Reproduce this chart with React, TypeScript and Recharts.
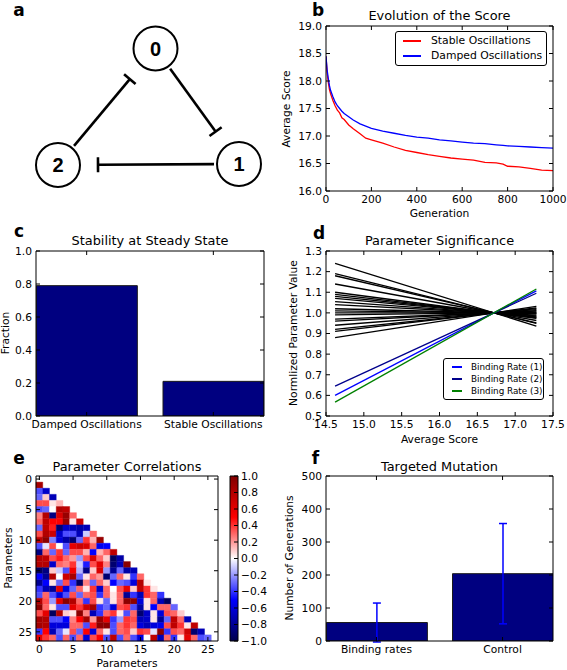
import React from 'react';
import {
  ComposedChart, LineChart, Line, XAxis, YAxis, Bar, ErrorBar, ScatterChart, Scatter,
  ReferenceLine, ReferenceArea, Legend,
} from 'recharts';

const FONT = "'DejaVu Sans', 'Liberation Sans', sans-serif";
const TICK_SIZE = 10.7;
const TITLE_SIZE = 12.9;
const LETTER_SIZE = 17;

/* ---------- panel a : network ---------- */
const nodeLabels = ['0', '1', '2'];
const nodeX = [155.5, 239, 58];
const nodeY = [48.5, 164, 165];
const edgeFrom = [0, 1, 2];
const edgeTo = [1, 2, 0];

/* ---------- panel b : evolution of the score ---------- */
const generations = [0, 5, 10, 15, 20, 30, 40, 50, 60, 70, 80, 100, 120, 150, 175, 200, 250, 300, 350, 400, 450, 500, 550, 600, 650, 700, 750, 780, 800, 850, 900, 950, 1000];
const stableScore = [18.45, 18.15, 17.98, 17.85, 17.77, 17.65, 17.55, 17.47, 17.42, 17.33, 17.3, 17.2, 17.13, 17.04, 16.96, 16.93, 16.87, 16.8, 16.74, 16.7, 16.66, 16.63, 16.6, 16.58, 16.56, 16.52, 16.51, 16.49, 16.45, 16.44, 16.41, 16.38, 16.37];
const dampedScore = [18.45, 18.2, 18.05, 17.92, 17.83, 17.72, 17.62, 17.55, 17.5, 17.45, 17.41, 17.35, 17.29, 17.22, 17.18, 17.14, 17.09, 17.05, 17.01, 16.98, 16.96, 16.93, 16.91, 16.89, 16.87, 16.86, 16.84, 16.83, 16.82, 16.81, 16.8, 16.79, 16.78];
const scoreSeriesNames = ['Stable Oscillations', 'Damped Oscillations'];
const scoreSeriesColors = ['#ff0000', '#0000ff'];
const genTicks = [0, 200, 400, 600, 800, 1000];
const scoreTicks = [16, 16.5, 17, 17.5, 18, 18.5, 19];

/* ---------- panel c : stability ---------- */
const stabilityCategories = ['Damped Oscillations', 'Stable Oscillations'];
const stabilityFractions = [0.79, 0.21];
const fractionTicks = [0, 0.2, 0.4, 0.6, 0.8, 1.0];

/* ---------- panel d : parameter significance ---------- */
const paramScoreRange = [14.62, 17.28];
const paramStart = [1.24, 1.19, 1.18, 1.14, 1.10, 1.09, 1.08, 1.07, 1.055, 1.04, 1.02, 1.01, 1.0, 0.99, 0.97, 0.96, 0.94, 0.92, 0.91, 0.88];
const paramEnd = [0.936, 0.949, 0.952, 0.963, 0.973, 0.976, 0.979, 0.981, 0.985, 0.989, 0.995, 0.997, 1.0, 1.003, 1.008, 1.011, 1.016, 1.021, 1.024, 1.032];
const bindingNames = ['Binding Rate (1)', 'Binding Rate (2)', 'Binding Rate (3)'];
const bindingColors = ['#0000ff', '#00008b', '#008000'];
const bindingStart = [0.60, 0.645, 0.567];
const bindingEnd = [1.107, 1.095, 1.116];
const avgScoreTicks = [14.5, 15, 15.5, 16, 16.5, 17, 17.5];
const normTicks = [0.5, 0.6, 0.7, 0.8, 0.9, 1.0, 1.1, 1.2, 1.3];

/* ---------- panel e : correlations (lower triangle) ---------- */
const correlationRows: number[][] = [
  [],
  [0.85],
  [-0.35, -0.65],
  [-0.3, 0.1, -0.7],
  [0.35, 0.35, 0.05, 0.15],
  [-0.35, -0.3, 0.0, 0.8, 0.75],
  [0.25, 0.8, -0.85, 0.65, 0.9, 0.3],
  [0.3, 0.75, 0.5, 0.5, 0.9, 0.05, 0.7],
  [-0.3, 0.75, 0.45, -0.9, -0.65, -0.7, -0.75, -0.7],
  [0.35, 0.8, 0.7, -0.65, -0.35, -0.35, -0.7, -0.1, 0.3],
  [0.75, 0.95, -0.25, -0.6, -0.75, -0.9, -0.3, 0.4, 0.15, 0.9],
  [-0.35, -0.05, 0.35, 0.0, -0.35, 0.6, 0.7, 0.65, 0.3, -0.55, -0.5],
  [-0.85, 0.3, -0.3, 0.4, -0.3, 0.35, 0.35, 0.15, -0.5, 0.15, 0.3, 0.75],
  [0.8, 0.75, 0.35, 0.45, 0.3, 0.2, -0.2, 0.35, 0.65, 0.3, 0.1, -0.95, -0.75],
  [0.8, 0.8, -0.65, 0.3, 0.25, 0.4, -0.1, -0.45, 0.35, 0.6, 0.25, -0.9, -0.7, 0.95],
  [-0.95, -0.85, 0.1, -0.1, -0.35, 0.55, -0.15, -0.85, 0.1, 0.65, -0.2, -0.8, -0.3, -0.75, -0.7],
  [-0.5, -0.8, 0.8, 0.0, 0.7, 0.85, -0.3, 0.05, 0.3, 0.2, -0.9, -0.3, 0.3, 0.05, -0.4, 0.3],
  [-0.8, -0.5, 0.05, -0.3, 0.35, -0.4, -0.95, 0.25, -0.3, 0.3, 0.1, -0.5, -0.3, -0.35, -0.6, 0.8, 0.05],
  [-0.4, -0.7, -0.8, 0.6, -0.6, -0.3, 0.3, 0.05, 0.4, -0.65, 0.3, 0.0, 0.35, 0.6, 0.1, 0.75, 0.4, 0.05],
  [-0.35, 0.3, -0.35, -0.6, -0.35, 0.35, -0.3, 0.3, 0.35, -0.4, 0.3, 0.05, 0.3, -0.8, -0.4, -0.7, 0.4, 0.3, -0.4],
  [0.8, 0.35, -0.2, 0.6, 0.95, 0.8, 0.3, -0.4, 0.35, 0.05, -0.3, 0.05, 0.3, 0.95, 0.95, -0.6, 0.05, 0.3, -0.7, -0.95],
  [0.95, 0.3, 0.05, -0.35, -0.35, 0.6, 0.4, 0.7, 0.85, -0.4, -0.3, -0.6, 0.35, 0.4, -0.35, -0.75, 0.05, -0.5, 0.3, 0.3, -0.3],
  [0.35, 0.6, -0.95, 0.8, 0.1, 0.05, 0.95, 0.25, -0.7, -0.4, 0.3, 0.4, 0.05, -0.35, 0.3, -0.9, -0.65, 0.05, -0.6, 0.35, 0.3, 0.1],
  [0.85, 0.8, -0.35, -0.35, -0.5, 0.25, 0.5, 0.85, 0.2, 0.9, 0.6, -0.4, -0.2, 0.4, 0.35, -0.7, -0.65, 0.05, -0.8, -0.3, 0.75, 0.3, -0.7],
  [0.85, 0.8, -0.6, -0.6, -0.6, 0.3, 0.3, -0.35, 0.45, 0.95, 0.95, -0.35, 0.3, 0.4, 0.3, -0.6, -0.7, -0.6, -0.55, 0.35, 0.75, 0.4, 0.05, 0.75],
  [-0.4, 0.5, -0.7, -0.3, -0.05, 0.35, -0.3, 0.5, -0.6, 0.3, 0.05, -0.35, 0.3, 0.35, 0.1, 0.4, 0.35, -0.05, 0.95, -0.4, 0.35, 0.3, 0.7, -0.9, -0.7],
  [0.6, 0.4, 0.3, -0.35, 0.3, -0.35, 0.3, -0.6, 0.35, 0.5, -0.35, 0.75, -0.35, 0.3, -0.35, -0.6, 0.0, 0.75, -0.7, 0.3, -0.4, 0.05, 0.6, 0.3, -0.35, -0.3],
];
const paramTicks = [0, 5, 10, 15, 20, 25];
const colorbarTicks = [-1, -0.8, -0.6, -0.4, -0.2, 0, 0.2, 0.4, 0.6, 0.8, 1.0];

/* ---------- panel f : targeted mutation ---------- */
const mutationCategories = ['Binding rates', 'Control'];
const mutationMeans = [56, 204];
const mutationErrors = [59, 152];
const generationTicks = [0, 100, 200, 300, 400, 500];

/* ---------- helpers ---------- */
const seismicStops: number[][] = [
  [0, 0, 0, 76.5], [0.25, 0, 0, 255], [0.5, 255, 255, 255], [0.75, 255, 0, 0], [1, 127.5, 0, 0],
];
function seismic(v: number) {
  const t = Math.max(0, Math.min(1, (v + 1) / 2));
  for (let k = 0; k < seismicStops.length - 1; k++) {
    const a = seismicStops[k];
    const b = seismicStops[k + 1];
    if (t <= b[0]) {
      const f = (t - a[0]) / (b[0] - a[0]);
      const c = [1, 2, 3].map((n) => Math.round(a[n] + (b[n] - a[n]) * f));
      return `rgb(${c.join(',')})`;
    }
  }
  return 'rgb(128,0,0)';
}

const ZERO = { top: 0, right: 0, bottom: 0, left: 0 };
const TICK = { fontSize: TICK_SIZE, fill: '#000', fontFamily: FONT };
const NoTick = () => null;
const HiddenPoint = () => <g />;
const one = (v: number) => v.toFixed(1);
const int = (v: number) => String(Math.round(v));
const minusFmt = (v: number) => (v < -1e-9 ? '\u2212' + Math.abs(v).toFixed(1) : Math.abs(v).toFixed(1));

type FrameOpts = {
  xKey?: string;
  yKey?: string;
  xDomain: [number, number];
  yDomain: [number, number];
  xTicks: number[];
  yTicks: number[];
  xFmt?: (v: number, i: number) => string;
  yFmt?: (v: number, i: number) => string;
  l: number; r: number; t: number; b: number;
  yRev?: boolean;
};

function frameAxes(o: FrameOpts) {
  const shared: any = {
    type: 'number',
    allowDataOverflow: true,
    stroke: '#000',
    interval: 0,
    tickSize: -4,
    tickLine: { stroke: '#000' },
    axisLine: { stroke: '#000', strokeWidth: 1 },
  };
  return [
    <XAxis key="xb" {...shared} xAxisId={0} orientation="bottom" dataKey={o.xKey} domain={o.xDomain}
      ticks={o.xTicks} tickFormatter={o.xFmt} height={o.b} tickMargin={8} tick={TICK} />,
    <XAxis key="xt" {...shared} xAxisId="top" orientation="top" dataKey={o.xKey} domain={o.xDomain}
      ticks={o.xTicks} height={o.t} tick={NoTick} />,
    <YAxis key="yl" {...shared} yAxisId={0} orientation="left" dataKey={o.yKey} domain={o.yDomain} ticks={o.yTicks}
      tickFormatter={o.yFmt} width={o.l} tickMargin={8} tick={TICK} reversed={o.yRev} />,
    <YAxis key="yr" {...shared} yAxisId="right" orientation="right" domain={o.yDomain} ticks={o.yTicks}
      width={o.r} tick={NoTick} reversed={o.yRev} />,
  ];
}

function LegendBox(p: { names: string[]; colors: string[]; fontSize: number; lineLen: number; rowH: number; padL: number; padT: number; gap: number; width: number }) {
  return (
    <div style={{
      boxSizing: 'border-box', width: p.width, border: '1px solid #000', borderRadius: 3, background: '#fff',
      padding: `${p.padT}px 0 ${p.padT}px ${p.padL}px`, fontFamily: FONT, fontSize: p.fontSize, color: '#000', lineHeight: 1,
    }}>
      {p.names.map((n, i) => (
        <div key={n} style={{ display: 'flex', alignItems: 'center', height: p.rowH, whiteSpace: 'nowrap' }}>
          <div style={{ flex: 'none', width: p.lineLen, height: 1.5, background: p.colors[i], marginRight: p.gap }} />
          <span>{n}</span>
        </div>
      ))}
    </div>
  );
}

function Txt(p: { x: number; y: number; size: number; bold?: boolean; rotate?: boolean; children: React.ReactNode }) {
  return (
    <div style={{
      position: 'absolute', left: p.x, top: p.y,
      transform: `translate(-50%, -50%)${p.rotate ? ' rotate(-90deg)' : ''}`,
      fontSize: p.size, fontWeight: p.bold ? 'bold' : 'normal', fontFamily: FONT,
      lineHeight: 1, whiteSpace: 'nowrap', color: '#000',
    }}>{p.children}</div>
  );
}

/* ---------- panels ---------- */
const NodeShape = (props: any) => (
  <g>
    <circle cx={props.cx} cy={props.cy} r={22} fill="#fff" stroke="#000" strokeWidth={2} />
    <text x={props.cx} y={props.cy} dy="0.36em" textAnchor="middle" fontSize={20} fontWeight="bold"
      fontFamily="'Liberation Sans', Arial, sans-serif" fill="#000">{props.payload.label}</text>
  </g>
);

function PanelA() {
  const nodes = nodeLabels.map((label, i) => ({ x: nodeX[i], y: nodeY[i], label }));
  const START = 25;
  const END = 40;
  const BAR = 7.5;
  const edges = edgeFrom.map((f, k) => {
    const t = edgeTo[k];
    const dx = nodeX[t] - nodeX[f];
    const dy = nodeY[t] - nodeY[f];
    const len = Math.hypot(dx, dy);
    const ux = dx / len;
    const uy = dy / len;
    const sx = nodeX[f] + ux * START;
    const sy = nodeY[f] + uy * START;
    const ex = nodeX[t] - ux * END;
    const ey = nodeY[t] - uy * END;
    return {
      line: [{ x: sx, y: sy }, { x: ex, y: ey }],
      bar: [{ x: ex - uy * BAR, y: ey + ux * BAR }, { x: ex + uy * BAR, y: ey - ux * BAR }],
    };
  });
  return (
    <div style={{ position: 'absolute', left: 0, top: 0 }}>
      <ScatterChart width={290} height={210} margin={ZERO}>
        <XAxis type="number" dataKey="x" domain={[0, 290]} hide allowDataOverflow />
        <YAxis type="number" dataKey="y" domain={[0, 210]} hide reversed allowDataOverflow />
        {edges.map((e, k) => (
          <ReferenceLine key={'l' + k} segment={e.line} stroke="#000" strokeWidth={2.6} ifOverflow="visible" />
        ))}
        {edges.map((e, k) => (
          <ReferenceLine key={'b' + k} segment={e.bar} stroke="#000" strokeWidth={2.6} ifOverflow="visible" />
        ))}
        <Scatter data={nodes} shape={NodeShape} isAnimationActive={false} />
      </ScatterChart>
    </div>
  );
}

function PanelB() {
  const data = generations.map((g, i) => ({ gen: g, stable: stableScore[i], damped: dampedScore[i] }));
  return (
    <div style={{ position: 'absolute', left: 270, top: 0 }}>
      <LineChart width={297} height={225} data={data} margin={ZERO}>
        {frameAxes({ xKey: 'gen', xDomain: [0, 1000], yDomain: [16, 19], xTicks: genTicks, yTicks: scoreTicks, xFmt: int, yFmt: one, l: 56, r: 14, t: 26, b: 34 })}
        <Line dataKey="stable" stroke={scoreSeriesColors[0]} strokeWidth={1.3} dot={false} isAnimationActive={false} />
        <Line dataKey="damped" stroke={scoreSeriesColors[1]} strokeWidth={1.3} dot={false} isAnimationActive={false} />
        <Legend layout="vertical" align="center" verticalAlign="middle"
          wrapperStyle={{ left: 125, top: 31, width: 152 }}
          content={() => <LegendBox names={scoreSeriesNames} colors={scoreSeriesColors} fontSize={10.8} lineLen={17.5} rowH={15} padL={7} padT={1.5} gap={10.5} width={152} />} />
      </LineChart>
    </div>
  );
}

function PanelC() {
  const data = stabilityCategories.map((c, i) => ({ pos: i + 0.4, frac: stabilityFractions[i] }));
  return (
    <div style={{ position: 'absolute', left: 0, top: 225 }}>
      <ComposedChart width={282} height={225} data={data} margin={ZERO}>
        {frameAxes({ xKey: 'pos', xDomain: [0, 1.8], yDomain: [0, 1], xTicks: data.map((d) => d.pos), yTicks: fractionTicks, xFmt: (_v, i) => stabilityCategories[i], yFmt: one, l: 36, r: 18, t: 26, b: 34 })}
        <Bar dataKey="frac" fill="#000080" stroke="#1a1a1a" strokeWidth={1} barSize={101} isAnimationActive={false} />
      </ComposedChart>
    </div>
  );
}

function PanelD() {
  const data = paramScoreRange.map((s, k) => {
    const row: any = { score: s };
    paramStart.forEach((v, i) => { row['p' + i] = k === 0 ? v : paramEnd[i]; });
    bindingStart.forEach((v, i) => { row['br' + i] = k === 0 ? v : bindingEnd[i]; });
    return row;
  });
  return (
    <div style={{ position: 'absolute', left: 282, top: 225 }}>
      <LineChart width={285} height={225} data={data} margin={ZERO}>
        {frameAxes({ xKey: 'score', xDomain: [14.5, 17.5], yDomain: [0.5, 1.3], xTicks: avgScoreTicks, yTicks: normTicks, xFmt: one, yFmt: one, l: 44, r: 14, t: 26, b: 34 })}
        {paramStart.map((_v, i) => (
          <Line key={'p' + i} dataKey={'p' + i} stroke="#000" strokeWidth={1.3} dot={false} isAnimationActive={false} />
        ))}
        {bindingStart.map((_v, i) => (
          <Line key={'br' + i} dataKey={'br' + i} stroke={bindingColors[i]} strokeWidth={1.3} dot={false} isAnimationActive={false} />
        ))}
        <Legend layout="vertical" align="center" verticalAlign="middle"
          wrapperStyle={{ left: 161, top: 133, width: 101 }}
          content={() => <LegendBox names={bindingNames} colors={bindingColors} fontSize={8.8} lineLen={10} rowH={12} padL={8} padT={2} gap={9} width={101} />} />
      </LineChart>
    </div>
  );
}

function PanelE() {
  const cells = correlationRows.flatMap((row, i) => row.map((v, j) => ({ i, j, v })));
  const points = cells.map((c) => ({ x: c.j, y: c.i }));
  return (
    <div style={{ position: 'absolute', left: 0, top: 450 }}>
      <ScatterChart width={226} height={220} margin={ZERO}>
        {frameAxes({ xKey: 'x', yKey: 'y', xDomain: [-0.5, 26.5], yDomain: [-0.5, 26.5], xTicks: paramTicks, yTicks: paramTicks, xFmt: int, yFmt: int, l: 36, r: 8, t: 26, b: 29, yRev: true })}
        {cells.map((c) => (
          <ReferenceArea key={`${c.i}-${c.j}`} x1={c.j - 0.5} x2={c.j + 0.5} y1={c.i - 0.5} y2={c.i + 0.5}
            fill={seismic(c.v)} fillOpacity={1} stroke={seismic(c.v)} strokeWidth={0.4} ifOverflow="visible" />
        ))}
        <Scatter data={points} shape={HiddenPoint} isAnimationActive={false} />
      </ScatterChart>
    </div>
  );
}

function Colorbar() {
  const shared: any = { type: 'number', allowDataOverflow: true, stroke: '#000', interval: 0, axisLine: { stroke: '#000' } };
  const gradStops = [...seismicStops].reverse();
  const anchor = [{ x: 0.5, y: 0 }];
  return (
    <div style={{ position: 'absolute', left: 222, top: 450 }}>
      <ScatterChart width={56} height={220} margin={ZERO}>
        <defs>
          <linearGradient id="seismicGrad" x1="0" y1="0" x2="0" y2="1">
            {gradStops.map((s, k) => (
              <stop key={k} offset={`${(1 - s[0]) * 100}%`} stopColor={`rgb(${Math.round(s[1])},${Math.round(s[2])},${Math.round(s[3])})`} />
            ))}
          </linearGradient>
        </defs>
        <XAxis {...shared} xAxisId={0} dataKey="x" orientation="bottom" domain={[0, 1]} ticks={[0.5]} height={29} tick={NoTick} tickLine={false} />
        <XAxis {...shared} xAxisId="top" dataKey="x" orientation="top" domain={[0, 1]} ticks={[0.5]} height={26} tick={NoTick} tickLine={false} />
        <YAxis {...shared} yAxisId={0} dataKey="y" orientation="left" domain={[-1, 1]} ticks={colorbarTicks} width={8} tick={NoTick} tickLine={false} />
        <YAxis {...shared} yAxisId="right" orientation="right" domain={[-1, 1]} ticks={colorbarTicks} width={40}
          tickSize={-4} tickMargin={7} tickLine={{ stroke: '#000' }} tick={TICK} tickFormatter={minusFmt} />
        <ReferenceArea x1={0} x2={1} y1={-1} y2={1} fill="url(#seismicGrad)" fillOpacity={1} stroke="none" ifOverflow="visible" />
        <Scatter data={anchor} shape={HiddenPoint} isAnimationActive={false} />
      </ScatterChart>
    </div>
  );
}

function PanelF() {
  const data = mutationCategories.map((c, i) => ({ pos: i + 0.4, mean: mutationMeans[i], err: mutationErrors[i] }));
  return (
    <div style={{ position: 'absolute', left: 282, top: 450 }}>
      <ComposedChart width={285} height={220} data={data} margin={ZERO}>
        {frameAxes({ xKey: 'pos', xDomain: [0, 1.8], yDomain: [0, 500], xTicks: data.map((d) => d.pos), yTicks: generationTicks, xFmt: (_v, i) => mutationCategories[i], yFmt: int, l: 44, r: 14, t: 26, b: 29 })}
        <Bar dataKey="mean" fill="#000080" stroke="#1a1a1a" strokeWidth={1} barSize={101} isAnimationActive={false}>
          <ErrorBar dataKey="err" direction="y" stroke="#0000ff" strokeWidth={1.5} width={4} isAnimationActive={false} />
        </Bar>
      </ComposedChart>
    </div>
  );
}

export default function App() {
  return (
    <div style={{ position: 'absolute', left: 0, top: 0, width: 567, height: 670, background: '#fff', overflow: 'hidden', fontFamily: FONT }}>
      <PanelA />
      <PanelB />
      <PanelC />
      <PanelD />
      <PanelE />
      <Colorbar />
      <PanelF />

      <Txt x={19} y={9.5} size={LETTER_SIZE} bold>a</Txt>
      <Txt x={318} y={9.5} size={LETTER_SIZE} bold>b</Txt>
      <Txt x={19} y={230.7} size={LETTER_SIZE} bold>c</Txt>
      <Txt x={319} y={232.8} size={LETTER_SIZE} bold>d</Txt>
      <Txt x={19} y={458.2} size={LETTER_SIZE} bold>e</Txt>
      <Txt x={315.5} y={458.3} size={LETTER_SIZE} bold>f</Txt>

      <Txt x={439.5} y={16} size={TITLE_SIZE}>Evolution of the Score</Txt>
      <Txt x={150} y={241} size={TITLE_SIZE}>Stability at Steady State</Txt>
      <Txt x={439.5} y={241} size={TITLE_SIZE}>Parameter Significance</Txt>
      <Txt x={127} y={466.5} size={TITLE_SIZE}>Parameter Correlations</Txt>
      <Txt x={439.5} y={466.5} size={TITLE_SIZE}>Targeted Mutation</Txt>

      <Txt x={439.5} y={214} size={TICK_SIZE}>Generation</Txt>
      <Txt x={439.5} y={439.5} size={TICK_SIZE}>Average Score</Txt>
      <Txt x={127} y={664} size={TICK_SIZE}>Parameters</Txt>

      <Txt x={286.5} y={108.5} size={TICK_SIZE} rotate>Average Score</Txt>
      <Txt x={6} y={333} size={TICK_SIZE} rotate>Fraction</Txt>
      <Txt x={294} y={333} size={TICK_SIZE} rotate>Normlized Parameter Value</Txt>
      <Txt x={9} y={558} size={TICK_SIZE} rotate>Parameters</Txt>
      <Txt x={290} y={558} size={TICK_SIZE} rotate>Number of Generations</Txt>
    </div>
  );
}
